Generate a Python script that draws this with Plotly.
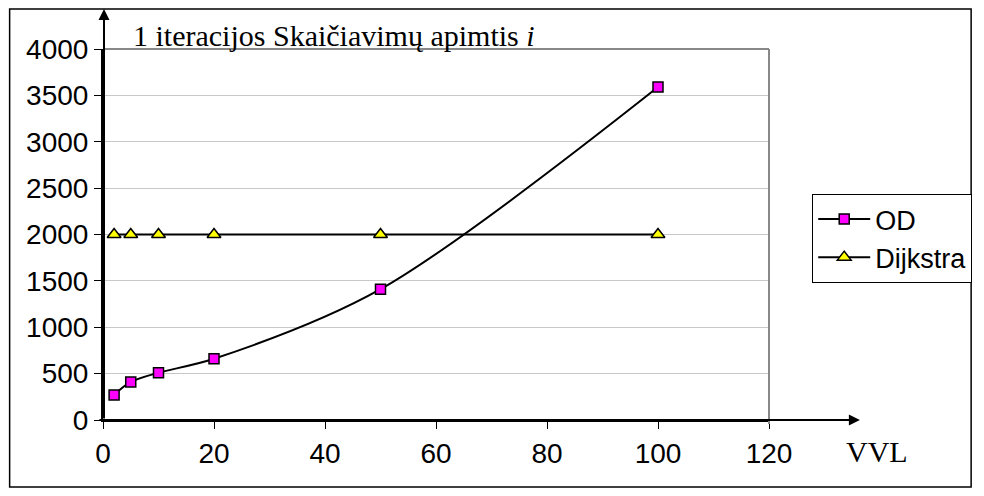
import plotly.graph_objects as go

# Data
vvl = [2, 5, 10, 20, 50, 100]
od_values = [270, 410, 510, 660, 1410, 3590]
dijkstra_values = [2000, 2000, 2000, 2000, 2000, 2000]
x_ticks = [0, 20, 40, 60, 80, 100, 120]
y_ticks = [0, 500, 1000, 1500, 2000, 2500, 3000, 3500, 4000]
series_names = ["OD", "Dijkstra"]
title_text = "1 iteracijos Skaičiavimų apimtis <i>i</i>"
x_label = "VVL"

SANS = "Liberation Sans, Arial, sans-serif"
SERIF = "Liberation Serif, Times New Roman, serif"

fig = go.Figure()
fig.add_trace(go.Scatter(
    x=vvl, y=od_values, name=series_names[0], mode="lines+markers",
    line=dict(color="black", width=2, shape="spline", smoothing=0.9),
    marker=dict(symbol="square", size=10, color="#ff00ff",
                line=dict(color="black", width=1.5)),
))
fig.add_trace(go.Scatter(
    x=vvl, y=dijkstra_values, name=series_names[1], mode="lines+markers",
    line=dict(color="black", width=2),
    marker=dict(symbol="triangle-up", size=12, color="#ffff00",
                line=dict(color="black", width=1.5)),
))

L, R, T, B = 103, 210.5, 49, 76
W, H = 984, 496
pw = W - L - R
ph = H - T - B

def px(xpix):
    return (xpix - L) / pw

def py(ypix):
    return (H - B - ypix) / ph

fig.update_layout(
    width=W, height=H,
    margin=dict(l=L, r=R, t=T, b=B, pad=0),
    paper_bgcolor="white", plot_bgcolor="white",
    font=dict(family=SANS, size=28, color="black"),
    showlegend=True,
    legend=dict(
        x=px(817), y=py(194), xanchor="left", yanchor="top",
        bordercolor="black", borderwidth=1, bgcolor="white",
        font=dict(family=SANS, size=27, color="black"),
        tracegroupgap=0, itemwidth=52,
    ),
    xaxis=dict(
        range=[0, 120], tickmode="array", tickvals=x_ticks,
        showgrid=False, zeroline=False,
        showline=True, linecolor="black", linewidth=2,
        ticks="outside", ticklen=7, tickcolor="black", tickwidth=1,
        tickfont=dict(family=SANS, size=28, color="black"),
    ),
    yaxis=dict(
        range=[0, 4000], tickmode="array", tickvals=y_ticks,
        showgrid=True, gridcolor="#c8c8c8", gridwidth=1,
        zeroline=False,
        showline=True, linecolor="black", linewidth=2,
        ticks="outside", ticklen=7, tickcolor="black", tickwidth=1,
        tickfont=dict(family=SANS, size=28, color="black"),
    ),
)

shapes = [
    # outer frame
    dict(type="rect", xref="paper", yref="paper",
         x0=px(9), x1=px(977), y0=py(487), y1=py(9),
         line=dict(color="black", width=1.5), fillcolor="rgba(0,0,0,0)", layer="below"),
    # plot border top and right (gray)
    dict(type="line", xref="paper", yref="paper", x0=0, x1=1, y0=1, y1=1,
         line=dict(color="#888888", width=2)),
    dict(type="line", xref="paper", yref="paper", x0=1, x1=1, y0=py(424), y1=1,
         line=dict(color="#888888", width=2)),
]
fig.update_layout(shapes=shapes)

annotations = [
    # y axis arrow
    dict(xref="paper", yref="paper", x=px(104), y=py(9), text="",
         showarrow=True, ax=0, ay=411, axref="pixel", ayref="pixel",
         arrowhead=2, arrowsize=1.1, arrowwidth=2, arrowcolor="black"),
    # x axis arrow
    dict(xref="paper", yref="paper", x=px(865), y=0, text="",
         showarrow=True, ax=-762, ay=0, axref="pixel", ayref="pixel",
         arrowhead=2, arrowsize=1.1, arrowwidth=2, arrowcolor="black"),
    dict(xref="paper", yref="paper", x=px(131), y=py(35), text=title_text,
         showarrow=False, xanchor="left", yanchor="middle",
         font=dict(family=SERIF, size=30, color="black")),
    dict(xref="paper", yref="paper", x=px(849), y=py(451), text=x_label,
         showarrow=False, xanchor="left", yanchor="middle",
         font=dict(family=SERIF, size=30, color="black")),
]
fig.update_layout(annotations=annotations)

fig.write_html("out.html")
